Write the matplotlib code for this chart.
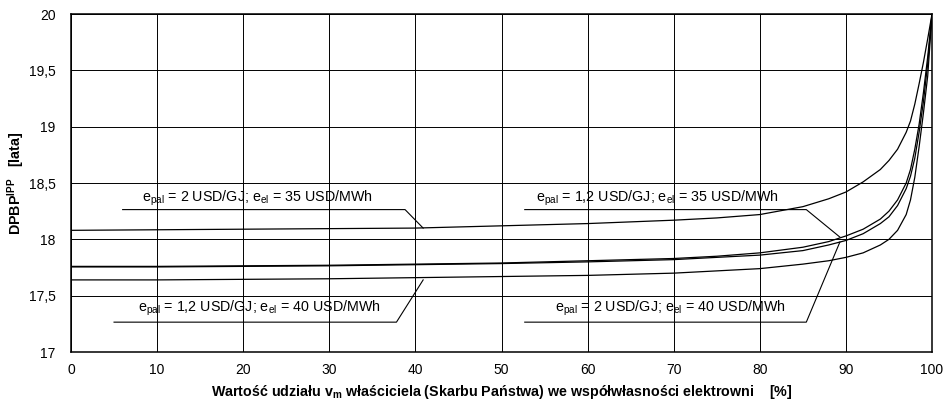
import matplotlib
matplotlib.use("Agg")
import matplotlib.pyplot as plt
import numpy as np

plt.rcParams['font.family'] = ['Liberation Sans', 'DejaVu Sans']
plt.rcParams['mathtext.fontset'] = 'custom'
plt.rcParams['mathtext.rm'] = 'Liberation Sans'
plt.rcParams['mathtext.it'] = 'Liberation Sans'
plt.rcParams['mathtext.bf'] = 'Liberation Sans:bold'

# udział właściciela [%]
share = [0, 10, 20, 30, 40, 50, 60, 70, 75, 80, 85, 88, 90, 92, 94, 95, 96, 97, 97.5, 98, 98.5, 99, 99.5, 100]

# DPBP [lata] dla czterech wariantów cen paliwa i energii
dpbp_2_35 = [18.08, 18.085, 18.09, 18.095, 18.10, 18.12, 18.14, 18.17, 18.19, 18.22, 18.29, 18.36, 18.42,
             18.51, 18.62, 18.70, 18.80, 18.95, 19.05, 19.20, 19.38, 19.57, 19.78, 20.0]
dpbp_12_35 = [17.76, 17.76, 17.765, 17.77, 17.78, 17.79, 17.81, 17.83, 17.85, 17.88, 17.93, 17.98, 18.03,
              18.09, 18.18, 18.25, 18.35, 18.50, 18.62, 18.80, 19.02, 19.30, 19.62, 20.0]
dpbp_2_40 = [17.755, 17.755, 17.76, 17.765, 17.775, 17.785, 17.80, 17.82, 17.84, 17.86, 17.90, 17.95, 17.99,
             18.05, 18.14, 18.20, 18.30, 18.45, 18.56, 18.72, 18.95, 19.22, 19.56, 20.0]
dpbp_12_40 = [17.64, 17.64, 17.645, 17.65, 17.66, 17.67, 17.68, 17.70, 17.72, 17.74, 17.78, 17.81, 17.84,
              17.88, 17.95, 18.00, 18.08, 18.22, 18.35, 18.55, 18.82, 19.12, 19.45, 20.0]

labels = [
    r'e$_\mathregular{pal}$ = 2 USD/GJ; e$_\mathregular{el}$ = 35 USD/MWh',
    r'e$_\mathregular{pal}$ = 1,2 USD/GJ; e$_\mathregular{el}$ = 35 USD/MWh',
    r'e$_\mathregular{pal}$ = 2 USD/GJ; e$_\mathregular{el}$ = 40 USD/MWh',
    r'e$_\mathregular{pal}$ = 1,2 USD/GJ; e$_\mathregular{el}$ = 40 USD/MWh',
]

fig = plt.figure(figsize=(9.44, 4.04), dpi=100)
ax = fig.add_axes([0.0752, 0.1287, 0.9121, 0.8366])

for ys in (dpbp_2_35, dpbp_12_35, dpbp_2_40, dpbp_12_40):
    ax.plot(share, ys, color='black', lw=0.9)

ax.set_xlim(0, 100)
ax.set_ylim(17, 20)
ax.set_xticks(np.arange(0, 101, 10))
ax.set_yticks(np.arange(17, 20.01, 0.5))
ax.set_yticklabels([f'{v:g}'.replace('.', ',') for v in np.arange(17, 20.01, 0.5)])
ax.tick_params(length=0, labelsize=10)
ax.tick_params(axis='y', pad=11)
ax.tick_params(axis='x', pad=8)
ax.grid(True, color='black', lw=0.7)
for s in ax.spines.values():
    s.set_linewidth(1.1)

# opisy krzywych z liniami odniesienia: (tekst x, y), łamana
notes = [
    (labels[0], (8.2, 18.36), [(6.0, 18.264), (38.8, 18.264), (40.9, 18.10)]),
    (labels[3], (7.8, 17.39), [(5.0, 17.265), (37.8, 17.265), (40.9, 17.64)]),
    (labels[1], (54.0, 18.36), [(52.7, 18.264), (85.4, 18.264), (89.3, 18.02)]),
    (labels[2], (56.2, 17.39), [(52.7, 17.265), (85.4, 17.265), (89.3, 17.976)]),
]
for txt, (tx, ty), pts in notes:
    px, py = zip(*pts)
    ax.plot(px, py, color='black', lw=0.8)
    ax.text(tx, ty, txt, fontsize=10.3, va='center', ha='left')

ax.set_xlabel(r'Wartość udziału v$_\mathbf{m}$ właściciela (Skarbu Państwa) we współwłasności elektrowni    [%]',
              fontsize=10.3, fontweight='bold', labelpad=4)
ax.set_ylabel(r'DPBP$^\mathbf{IPP}$   [lata]', fontsize=10.3, fontweight='bold')
ax.yaxis.set_label_coords(-0.051, 0.5)

fig.savefig('out.png', dpi=100, facecolor='white')
